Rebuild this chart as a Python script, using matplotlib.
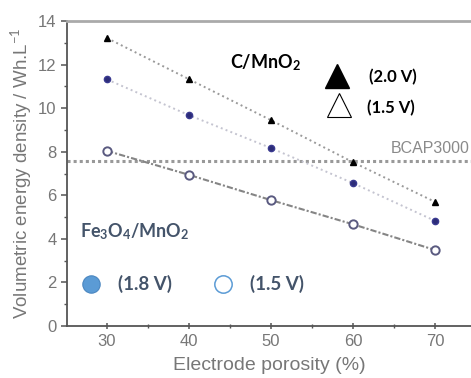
import numpy as np
import matplotlib.pyplot as plt
from matplotlib.ticker import MultipleLocator

## Data

porosity = [30, 40, 50, 60, 70]
c_mno2_20v = [13.22, 11.33, 9.45, 7.52, 5.70]
c_mno2_15v = [11.32, 9.68, 8.17, 6.56, 4.83]
fe3o4_mno2 = [8.04, 6.94, 5.78, 4.67, 3.49]
bcap3000 = 7.57

plt.rcParams['font.family'] = ['Liberation Sans', 'DejaVu Sans']
plt.rcParams['mathtext.fontset'] = 'custom'
plt.rcParams['mathtext.rm'] = 'Lato'
plt.rcParams['mathtext.bf'] = 'Lato:bold'
plt.rcParams['mathtext.it'] = 'Lato:italic'

## Figure

fig = plt.figure(figsize=(4.71, 3.78), dpi=100)
ax = fig.add_axes([0.142, 0.1376, 0.858, 0.8066])

grey = '#777777'

# reference supercap level
ax.axhline(bcap3000, color='#999999', linestyle=(0, (1, 1)), linewidth=2.2, zorder=1)
ax.text(64.6, 8.17, 'BCAP3000', color='#8a8a8a', fontsize=11.5, va='center', ha='left')

# measured series
ax.plot(porosity, c_mno2_20v, linestyle=':', color='#9a9a9a', linewidth=1.4,
        marker='^', markersize=5, markerfacecolor='black', markeredgecolor='black', zorder=3)
ax.plot(porosity, c_mno2_15v, linestyle=':', color='#c4c4d0', linewidth=1.4,
        marker='o', markersize=4.5, markerfacecolor='#2c2c78', markeredgecolor='#3a3a90', zorder=3)
ax.plot(porosity, fe3o4_mno2, linestyle=(0, (3, 1, 1, 1)), color='#858585', linewidth=1.5,
        marker='o', markersize=6, markerfacecolor='white', markeredgecolor='#5a5a80',
        markeredgewidth=1.4, zorder=3)

ax.set_xlim(25.1, 74.4)
ax.set_ylim(0, 14)
ax.xaxis.set_major_locator(MultipleLocator(10))
ax.xaxis.set_minor_locator(MultipleLocator(5))
ax.yaxis.set_major_locator(MultipleLocator(2))
ax.yaxis.set_minor_locator(MultipleLocator(1))

ax.tick_params(axis='both', which='major', labelsize=12, labelcolor=grey, color='#555555',
               length=4, width=1.1)
ax.tick_params(axis='both', which='minor', color='#555555', length=2.5, width=1)
ax.tick_params(axis='x', which='both', direction='inout')

ax.spines['right'].set_visible(False)
ax.spines['left'].set_color('#555555')
ax.spines['bottom'].set_color('#555555')
ax.spines['left'].set_linewidth(1.3)
ax.spines['bottom'].set_linewidth(1.3)
ax.spines['top'].set_color('#aaaaaa')
ax.spines['top'].set_linewidth(2)

ax.set_xlabel('Electrode porosity (%)', color=grey, fontsize=14, labelpad=6)
ax.set_ylabel('Volumetric energy density / Wh.L$^{-1}$', color=grey, fontsize=13.5, labelpad=3)

# legend-like annotations
lbl = dict(family='Lato', fontweight='bold', va='center', ha='left')
ax.text(45.0, 12.11, 'C/MnO$_\\mathbf{2}$', color='black', fontsize=13, **lbl)
ax.plot(58.05, 11.47, marker='^', markersize=17, color='black', clip_on=False)
ax.plot(58.3, 10.14, marker='^', markersize=17, markerfacecolor='white',
        markeredgecolor='black', markeredgewidth=0.8, clip_on=False)
ax.text(61.95, 11.42, '(2.0 V)', color='black', fontsize=12, **lbl)
ax.text(61.7, 10.0, '(1.5 V)', color='black', fontsize=12, **lbl)

ax.text(26.7, 4.31, 'Fe$_\\mathbf{3}$O$_\\mathbf{4}$/MnO$_\\mathbf{2}$', color='#44546a',
        fontsize=13, **lbl)
ax.plot(28.05, 1.93, marker='o', markersize=12.5, markerfacecolor='#5b9bd5',
        markeredgecolor='#4a86c0', markeredgewidth=0.8)
ax.text(31.34, 1.93, '(1.8 V)', color='#44546a', fontsize=13.5, **lbl)
ax.plot(44.15, 1.93, marker='o', markersize=12.5, markerfacecolor='white',
        markeredgecolor='#5b9bd5', markeredgewidth=1.1)
ax.text(47.4, 1.93, '(1.5 V)', color='#44546a', fontsize=13.5, **lbl)

fig.savefig('out.png', dpi=100)
